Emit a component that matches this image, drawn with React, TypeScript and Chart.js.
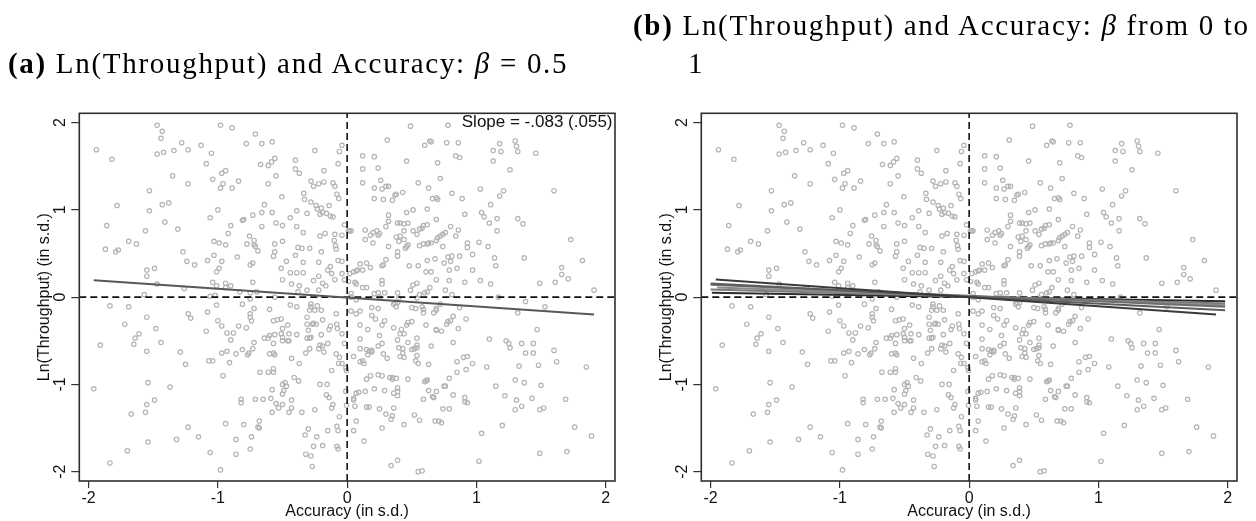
import React, { useEffect, useRef } from "react";
import { Chart, registerables } from "chart.js";

Chart.register(...registerables);

// ---------- axis values ----------
const accuracyTicks = [-2, -1, 0, 1, 2];
const throughputTicks = [-2, -1, 0, 1, 2];
const X_RANGE = [-2.072, 2.072];
const Y_RANGE = [-2.107, 2.107];

// ---------- scatter points (accuracy, ln throughput) ----------
const pointsUpperLeft: number[][] = [
  [-1.94,1.69],[-1.82,1.58],[-1.86,0.82],[-1.78,1.05],[-1.87,0.55],[-1.79,0.52],[-1.77,0.54],[-1.69,0.64],[-1.63,0.61],[-1.56,0.76],
  [-1.55,0.31],[-1.55,0.24],[-1.49,0.33],[-1.57,0.03],[-1.47,0.15],[-1.47,1.97],[-1.43,1.90],[-1.44,1.82],[-1.47,1.64],[-1.42,1.66],
  [-1.53,1.22],[-1.53,0.99],[-1.43,1.06],[-1.38,1.08],[-1.41,0.86],[-1.35,1.39],[-1.34,1.68],[-1.28,1.77],[-1.23,1.69],[-1.23,1.30],
  [-1.13,1.74],[-1.09,1.53],[-1.05,1.65],[-1.04,1.35],[-0.98,1.97],[-0.89,1.94],[-0.97,1.42],[-0.94,1.45],[-0.96,1.30],[-0.98,1.25],
  [-0.89,1.25],[-0.84,1.33],[-1.00,1.00],[-1.06,0.91],[-0.90,0.82],[-0.92,0.73],[-1.31,0.78],[-1.27,0.52],[-1.24,0.41],[-1.18,0.37],
  [-1.08,0.42],[-1.03,0.64],[-1.03,0.48],[-0.99,0.62],[-0.94,0.60],[-0.97,0.41],[-1.01,0.29],[-0.99,0.33],[-0.85,0.46],[-0.81,0.88],
  [-0.80,0.89],[-0.78,1.76],[-0.71,1.87],[-0.66,1.76],[-0.67,1.52],[-0.61,1.51],[-0.585,1.55],[-0.56,1.59],[-0.58,1.78],[-0.61,1.30],
  [-0.55,1.39],[-0.505,1.15],[-0.64,1.06],[-0.66,0.97],[-0.73,0.94],[-0.66,0.81],[-0.58,0.97],[-0.55,0.85],[-0.50,0.82],[-0.755,0.70],
  [-0.775,0.61],[-0.72,0.65],[-0.72,0.60],[-0.71,0.58],[-0.69,0.53],[-0.75,0.37],[-0.73,0.39],[-0.73,0.17],[-0.56,0.61],[-0.56,0.52],
  [-0.57,0.47],[-0.50,0.64],[-0.51,0.33],[-0.47,0.41],[-0.44,0.28],[-0.50,0.20],[-0.43,0.15],[-0.40,1.57],[-0.40,1.47],[-0.37,1.42],
  [-0.25,1.68],[-0.335,1.19],[-0.33,1.12],[-0.28,1.33],[-0.26,1.27],[-0.22,1.30],[-0.18,1.32],[-0.11,1.31],[-0.095,1.27],[-0.39,0.99],
  [-0.44,0.91],[-0.39,0.81],[-0.34,0.74],[-0.31,0.96],[-0.28,1.09],[-0.24,1.05],[-0.23,1.01],[-0.20,1.02],[-0.19,0.97],[-0.21,0.95],
  [-0.16,0.96],[-0.13,0.93],[-0.11,0.92],[-0.14,1.05],[-0.18,1.45],[-0.08,1.18],[-0.065,1.13],[-0.07,1.53],[-0.06,1.67],[-0.21,0.70],
  [-0.17,0.73],[-0.095,0.72],[-0.10,0.65],[-0.09,0.59],[-0.085,0.55],[-0.20,0.52],[-0.40,0.48],[-0.38,0.57],[-0.35,0.56],[-0.29,0.56],
  [-0.34,0.40],[-0.39,0.28],[-0.34,0.28],[-0.22,0.40],[-0.15,0.31],[-0.12,0.27],[-0.095,0.20],[-0.07,0.42],[-0.13,0.35],[-0.22,0.24],
  [-0.26,0.19],[-0.19,0.16],[-0.165,0.13],[-0.22,0.08],[-0.31,0.08],[-0.37,0.13],[-1.06,0.01],[-1.02,0.02],[-1.04,0.17],[-1.01,0.13],
  [-0.94,0.16],[-0.94,0.11],[-0.90,0.13],[-0.83,0.06],[-0.75,0.05],[-0.70,0.06],[-1.26,0.10],[-0.56,0.00],[-0.38,0.06],
  [-0.04,1.74],[-0.02,0.83],[-0.04,0.71],[-0.04,0.41],[-0.04,0.27],[-0.02,0.20],
];

const pointsUpperRight: number[][] = [
  [0.01,0.76],[0.02,0.76],[0.03,0.76],[0.01,0.18],[0.02,0.27],[0.05,0.29],[0.07,0.30],[0.08,0.31],[0.06,0.17],[0.07,0.15],
  [0.03,0.04],[0.12,0.11],[0.15,0.11],[0.12,1.62],[0.21,1.61],[0.12,1.47],[0.24,1.48],[0.12,1.31],[0.21,1.25],[0.26,1.34],
  [0.27,1.24],[0.30,1.27],[0.32,1.27],[0.21,1.13],[0.28,1.12],[0.35,1.11],[0.37,1.17],[0.38,1.18],[0.43,1.20],[0.31,1.80],
  [0.49,1.96],[0.46,1.56],[0.60,1.74],[0.64,1.79],[0.65,1.78],[0.77,1.77],[0.86,1.77],[0.78,1.97],[0.70,1.54],[0.84,1.62],
  [0.87,1.60],[0.55,1.31],[0.63,1.25],[0.72,1.36],[0.66,1.13],[0.69,1.14],[0.70,1.12],[0.81,1.19],[0.89,1.13],[1.03,1.24],
  [1.13,1.68],[1.19,1.67],[1.18,1.76],[1.13,1.56],[1.26,1.46],[1.30,1.79],[1.31,1.73],[1.32,1.67],[1.46,1.65],[1.60,1.22],
  [1.21,1.22],[1.18,1.16],[1.11,1.06],[1.04,0.97],[1.06,0.92],[0.91,0.95],[1.10,0.85],[1.16,0.90],[1.16,0.76],[1.32,0.90],
  [1.36,0.84],[1.73,0.66],[1.82,0.42],[1.37,0.45],[1.14,0.45],[1.15,0.36],[0.97,0.49],[1.02,0.63],[1.09,0.58],[0.93,0.62],
  [0.93,0.57],[0.97,0.31],[0.91,0.17],[1.03,0.19],[1.11,0.15],[1.49,0.16],[1.61,0.17],[1.66,0.26],[1.66,0.34],[1.71,0.21],
  [1.91,0.08],[1.17,0.00],[0.79,0.31],[0.80,0.41],[0.78,0.46],[0.81,0.47],[0.85,0.33],[0.75,0.39],[0.87,0.47],[0.74,0.58],
  [0.84,0.70],[0.80,0.81],[0.86,0.77],[0.76,0.74],[0.74,0.72],[0.72,0.70],[0.70,0.68],[0.69,0.65],[0.65,0.62],[0.62,0.61],
  [0.59,0.61],[0.69,0.89],[0.62,1.01],[0.51,1.00],[0.46,0.97],[0.32,0.94],[0.32,0.87],[0.30,0.81],[0.39,0.85],[0.41,0.85],
  [0.44,0.84],[0.47,0.85],[0.54,0.72],[0.56,0.78],[0.58,0.79],[0.59,0.82],[0.62,0.83],[0.51,0.76],[0.44,0.76],[0.38,0.69],
  [0.41,0.70],[0.40,0.64],[0.44,0.66],[0.46,0.58],[0.47,0.60],[0.45,0.56],[0.56,0.59],[0.63,0.62],[0.68,0.44],[0.62,0.42],
  [0.55,0.36],[0.48,0.36],[0.39,0.52],[0.39,0.47],[0.32,0.58],[0.25,0.73],[0.23,0.76],[0.24,0.71],[0.20,0.62],[0.14,0.66],
  [0.14,0.77],[0.20,0.74],[0.18,0.71],[0.10,0.38],[0.15,0.39],[0.18,0.34],[0.12,0.31],[0.27,0.36],[0.28,0.37],[0.30,0.43],
  [0.65,0.29],[0.61,0.29],[0.69,0.20],[0.79,0.19],[0.27,0.19],[0.27,0.15],[0.21,0.04],[0.24,0.05],[0.29,0.05],[0.39,0.05],
  [0.49,0.08],[0.51,0.14],[0.54,0.16],[0.56,0.03],[0.60,0.05],[0.62,0.06],[0.64,0.11],[0.76,0.08],[0.81,0.03],[0.40,-0.01],
  [0.54,-0.01],
];

const pointsLowerLeft: number[][] = [
  [-1.835,-0.10],[-1.69,-0.11],[-1.72,-0.31],[-1.55,-0.23],[-1.91,-0.55],[-1.61,-0.42],[-1.64,-0.47],[-1.65,-0.54],[-1.48,-0.36],[-1.44,-0.52],
  [-1.55,-0.62],[-1.96,-1.05],[-1.54,-0.98],[-1.37,-1.03],[-1.49,-1.18],[-1.55,-1.23],[-1.56,-1.32],[-1.67,-1.34],[-1.54,-1.66],[-1.70,-1.76],
  [-1.835,-1.90],[-1.23,-0.19],[-1.21,-0.24],[-1.08,-0.17],[-1.01,-0.09],[-1.00,-0.27],[-0.97,-0.33],[-1.09,-0.39],[-0.93,-0.41],[-0.88,-0.41],
  [-0.84,-0.33],[-0.78,-0.35],[-0.90,-0.49],[-0.97,-0.64],[-0.93,-0.62],[-0.86,-0.65],[-0.91,-0.75],[-0.81,-0.60],[-1.29,-0.63],[-1.25,-0.77],
  [-1.07,-0.73],[-1.04,-0.73],[-0.96,-0.90],[-0.81,-0.08],[-0.75,-0.19],[-0.75,-0.02],[-0.75,-0.23],[-0.74,-0.27],[-0.72,-0.13],[-0.72,-0.52],
  [-0.73,-0.59],[-0.76,-0.64],[-0.77,-0.66],[-0.675,-0.86],[-0.60,-0.44],[-0.61,-0.47],[-0.64,-0.47],[-0.60,-0.14],[-0.57,-0.27],[-0.54,-0.26],
  [-0.51,-0.25],[-0.56,-0.43],[-0.57,-0.53],[-0.60,-0.65],[-0.57,-0.64],[-0.56,-0.66],[-0.61,-0.86],[-0.57,-0.82],[-0.57,-0.86],[-0.51,-0.42],
  [-0.50,-0.46],[-0.50,-0.36],[-0.46,-0.32],[-0.50,-0.50],[-0.46,-0.50],[-0.45,-0.50],[-0.45,-0.42],[-0.44,-0.09],[-0.39,-0.11],[-0.39,-0.43],
  [-0.43,-0.70],[-0.37,-0.76],[-0.50,-1.00],[-0.48,-0.98],[-0.49,-1.07],[-0.47,-1.02],[-0.50,-1.11],[-0.41,-0.92],[-0.375,-0.96],[-0.65,-1.17],
  [-0.59,-1.16],[-0.58,-1.06],[-0.55,-1.22],[-0.53,-1.27],[-0.50,-1.23],[-0.43,-1.18],[-0.43,-1.27],[-0.45,-1.32],[-0.35,-1.32],[-0.58,-1.32],
  [-0.68,-1.42],[-0.69,-1.49],[-0.68,-1.50],[-0.71,-1.17],[-0.82,-1.17],[-0.82,-1.21],[-0.80,-1.46],[-0.74,-1.60],[-0.75,-1.74],[-0.86,-1.63],
  [-0.86,-1.80],[-0.94,-1.45],[-0.98,-1.98],[-1.06,-1.78],[-1.15,-1.60],[-1.23,-1.49],[-1.32,-1.63],[-0.325,-1.58],[-0.30,-1.51],[-0.235,-1.60],
  [-0.19,-1.70],[-0.26,-1.71],[-0.32,-1.80],[-0.28,-1.82],[-0.27,-1.94],[-0.25,-1.29],[-0.15,-1.53],[-0.08,-1.71],[-0.07,-1.74],[-0.08,-1.48],
  [-0.07,-1.53],[-0.06,-1.37],[-0.12,-1.27],[-0.11,-1.23],[-0.16,-1.12],[-0.14,-1.15],[-0.21,-1.00],[-0.155,-1.00],[-0.12,-0.84],[-0.32,-0.64],
  [-0.29,-0.59],[-0.22,-0.59],[-0.18,-0.63],[-0.21,-0.55],[-0.19,-0.56],[-0.15,-0.53],[-0.085,-0.65],[-0.065,-0.76],[-0.20,-0.43],[-0.31,-0.31],
  [-0.30,-0.38],[-0.28,-0.46],[-0.31,-0.47],[-0.29,-0.47],[-0.27,-0.31],[-0.26,-0.30],[-0.24,-0.31],[-0.29,-0.15],[-0.28,-0.08],[-0.28,-0.11],
  [-0.23,-0.10],[-0.25,-0.15],[-0.20,-0.15],[-0.31,-0.23],[-0.19,-0.26],[-0.13,-0.33],[-0.14,-0.37],[-0.085,-0.19],[-0.08,-0.31],[-0.075,-0.36],
  [-0.04,-0.42],[-0.02,-0.53],[-0.06,-0.69],[-0.04,-0.76],[-0.01,-0.81],[-0.005,-0.84],[-0.01,-1.08],[-0.005,-1.24],
];

const pointsLowerRight: number[][] = [
  [0.03,-0.16],[0.03,0.00],[0.07,-0.03],[0.07,-0.19],[0.10,-0.16],[0.10,-0.32],[0.05,-0.68],[0.10,-0.48],[0.10,-0.59],[0.10,-0.74],
  [0.12,-0.73],[0.13,-0.76],[0.15,-0.94],[0.18,-0.90],[0.07,-1.10],[0.09,-1.09],[0.14,-1.08],[0.05,-1.16],[0.05,-1.18],[0.06,-1.25],
  [0.15,-1.26],[0.17,-1.26],[0.07,-1.42],[0.05,-1.53],[0.13,-1.65],[0.16,-0.37],[0.19,-0.61],[0.15,-0.60],[0.17,-0.62],[0.19,-0.63],
  [0.16,-0.66],[0.19,-0.21],[0.22,-0.25],[0.19,-0.12],[0.24,-0.13],[0.25,0.00],[0.29,-0.27],[0.27,-0.32],[0.25,-0.44],[0.27,-0.53],
  [0.24,-0.56],[0.28,-0.65],[0.31,-0.70],[0.24,-0.89],[0.27,-0.90],[0.21,-1.05],[0.29,-1.07],[0.36,-1.10],[0.33,-0.92],[0.35,-0.92],
  [0.35,-0.94],[0.38,-0.93],[0.39,-1.04],[0.39,-1.08],[0.39,-1.13],[0.25,-1.28],[0.30,-1.34],[0.35,-1.36],[0.34,-1.40],[0.36,-1.27],
  [0.27,-1.50],[0.44,-1.46],[0.34,-1.93],[0.39,-1.87],[0.55,-2.00],[0.58,-1.99],[0.36,-0.08],[0.38,-0.11],[0.39,-0.06],[0.37,-0.06],
  [0.36,-0.35],[0.39,-0.49],[0.42,-0.37],[0.41,-0.42],[0.44,-0.42],[0.46,-0.32],[0.47,-0.29],[0.50,-0.28],[0.40,-0.58],[0.43,-0.59],
  [0.41,-0.68],[0.43,-0.64],[0.44,-0.69],[0.47,-0.52],[0.50,-0.60],[0.52,-0.59],[0.54,-0.47],[0.54,-0.55],[0.54,-0.58],[0.54,-0.67],
  [0.53,-0.73],[0.55,-0.76],[0.47,-0.94],[0.50,-0.12],[0.53,-0.13],[0.58,-0.11],[0.59,-0.14],[0.59,-0.18],[0.61,-0.32],[0.65,-0.56],
  [0.63,-0.77],[0.67,-0.18],[0.69,-0.15],[0.69,-0.13],[0.72,-0.08],[0.69,-0.37],[0.69,-0.38],[0.73,-0.39],[0.60,-0.97],[0.61,-0.96],
  [0.62,-0.95],[0.63,-1.07],[0.59,-1.17],[0.66,-1.14],[0.67,-1.15],[0.69,-1.08],[0.52,-1.35],[0.56,-1.41],[0.68,-1.42],[0.71,-1.42],
  [0.73,-1.44],[0.75,-1.02],[0.76,-1.02],[0.74,-1.28],[0.79,-1.28],[0.79,-0.93],[0.82,-1.12],[0.77,-0.31],[0.78,-0.28],[0.80,-0.27],
  [0.82,-0.22],[0.86,-0.36],[0.87,-0.12],[0.82,-0.52],[0.92,-0.25],[0.85,-0.74],[0.85,-0.86],[0.90,-0.69],[0.93,-0.68],[0.97,-0.76],
  [0.92,-0.83],[0.91,-1.15],[0.91,-1.20],[0.93,-1.21],[1.04,-1.56],[1.02,-1.88],[1.08,-0.80],[1.10,-0.48],[1.15,-1.02],[1.20,-1.47],
  [1.22,-1.13],[1.23,-0.50],[1.25,-0.53],[1.26,-0.58],[1.30,-0.95],[1.37,-0.98],[1.31,-1.18],[1.35,-1.25],[1.30,-1.29],[1.33,-0.79],
  [1.32,-0.18],[1.38,-0.05],[1.35,-0.53],[1.38,-0.64],[1.44,-0.53],[1.44,-0.64],[1.43,-1.16],[1.47,-0.37],[1.48,-0.78],[1.50,-1.01],
  [1.49,-1.29],[1.52,-1.27],[1.49,-1.79],[1.53,-0.11],[1.60,-0.61],[1.62,-0.74],[1.69,-1.17],[1.70,-1.77],[1.76,-1.49],[1.85,-0.80],
  [1.89,-1.59],
];

// ---------- fitted lines ----------
const fitA_x = [-1.96, 1.91];
const fitA_y = [0.195, -0.2];
const slopeLabelA = "Slope = -.083 (.055)";

// panel (b): one fitted line per beta, endpoints
const fitsB_x0 = [-1.96, -2.0, -2.0, -1.95, -2.0, -1.99];
const fitsB_y0 = [0.203, 0.157, 0.142, 0.111, 0.088, 0.05];
const fitsB_x1 = [1.91, 1.98, 1.98, 1.98, 1.98, 1.98];
const fitsB_y1 = [-0.199, -0.149, -0.111, -0.092, -0.073, -0.046];

// ---------- styles ----------
const fitA_color = "#585858";
const fitsB_colors = ["#3a3a3a", "#5c5c5c", "#6e6e6e", "#8a8a8a", "#7a7a7a", "#2c2c2c"];
const SANS = '"Liberation Sans", Arial, Helvetica, sans-serif';
const SERIF = '"Liberation Serif", "Times New Roman", serif';

const allPoints = [...pointsUpperLeft, ...pointsUpperRight, ...pointsLowerLeft, ...pointsLowerRight];

const framePlugin = {
  id: "frameNote",
  afterDatasetsDraw(chart: any, _args: any, opts: any) {
    const { ctx, chartArea } = chart;
    const { left, top, right, bottom } = chartArea;
    ctx.save();
    ctx.strokeStyle = "#2e2e2e";
    ctx.lineWidth = 1.6;
    ctx.strokeRect(left, top, right - left, bottom - top);
    if (opts && opts.text) {
      ctx.fillStyle = "#111";
      ctx.font = `17px ${SANS}`;
      ctx.textAlign = "right";
      ctx.textBaseline = "middle";
      ctx.fillText(opts.text, right - 2.5, top + 8.6);
    }
    ctx.restore();
  },
};

type Line = { x: number[]; y: number[]; color: string };

function buildConfig(lines: Line[], note: string | null): any {
  const lineSets = lines.map((l) => ({
    type: "line",
    data: [
      { x: l.x[0], y: l.y[0] },
      { x: l.x[1], y: l.y[1] },
    ],
    borderColor: l.color,
    borderWidth: 2,
    pointRadius: 0,
    pointHoverRadius: 0,
    fill: false,
    tension: 0,
    order: 1,
  }));
  const dashed = (pts: { x: number; y: number }[]) => ({
    type: "line",
    data: pts,
    borderColor: "#111",
    borderWidth: 1.6,
    borderDash: [7, 4],
    pointRadius: 0,
    pointHoverRadius: 0,
    fill: false,
    order: 2,
  });
  const tickFont = { family: SANS, size: 16 };
  return {
    type: "scatter",
    data: {
      datasets: [
        ...lineSets,
        dashed([
          { x: X_RANGE[0], y: 0 },
          { x: X_RANGE[1], y: 0 },
        ]),
        dashed([
          { x: 0, y: Y_RANGE[0] },
          { x: 0, y: Y_RANGE[1] },
        ]),
        {
          type: "scatter",
          data: allPoints.map(([x, y]) => ({ x, y })),
          pointRadius: 2.2,
          pointHoverRadius: 2.2,
          borderWidth: 1.2,
          borderColor: "#b3b3b3",
          backgroundColor: "rgba(255,255,255,0)",
          order: 3,
        },
      ],
    },
    options: {
      animation: false,
      responsive: false,
      maintainAspectRatio: false,
      devicePixelRatio: 1,
      events: [],
      layout: { padding: { top: 113.3, right: 13, bottom: 0, left: 0 } },
      plugins: {
        legend: { display: false },
        tooltip: { enabled: false },
        frameNote: { text: note },
      },
      scales: {
        x: {
          type: "linear",
          min: X_RANGE[0],
          max: X_RANGE[1],
          afterBuildTicks: (s: any) => {
            s.ticks = accuracyTicks.map((v) => ({ value: v }));
          },
          afterFit: (s: any) => {
            s.height = 40;
          },
          border: { display: false },
          grid: { drawOnChartArea: false, drawTicks: true, tickLength: 7, color: "#333", lineWidth: 1.2 },
          ticks: {
            color: "#111",
            font: tickFont,
            padding: 1,
            autoSkip: false,
            maxRotation: 0,
            minRotation: 0,
            callback: (v: any) => String(v),
          },
          title: {
            display: true,
            text: "Accuracy (in s.d.)",
            color: "#111",
            font: tickFont,
            padding: { top: 0, bottom: 0 },
          },
        },
        y: {
          type: "linear",
          min: Y_RANGE[0],
          max: Y_RANGE[1],
          afterBuildTicks: (s: any) => {
            s.ticks = throughputTicks.map((v) => ({ value: v }));
          },
          afterFit: (s: any) => {
            s.width = 79.3;
          },
          border: { display: false },
          grid: { drawOnChartArea: false, drawTicks: true, tickLength: 8, color: "#333", lineWidth: 1.2 },
          ticks: {
            color: "#111",
            font: tickFont,
            padding: 3.5,
            autoSkip: false,
            minRotation: 90,
            maxRotation: 90,
            crossAlign: "center",
            callback: (v: any) => String(v),
          },
          title: {
            display: true,
            text: "Ln(Throughput) (in s.d.)",
            color: "#111",
            font: tickFont,
            padding: { top: 35.4, bottom: 0 },
          },
        },
      },
    },
    plugins: [framePlugin],
  };
}

function Panel({ lines, note, left }: { lines: Line[]; note: string | null; left: number }) {
  const ref = useRef<HTMLCanvasElement | null>(null);
  useEffect(() => {
    if (!ref.current) return;
    const chart = new Chart(ref.current, buildConfig(lines, note));
    return () => chart.destroy();
  }, []);
  return (
    <canvas
      ref={ref}
      width={628}
      height={521}
      style={{ position: "absolute", left, top: 0, width: 628, height: 521 }}
    />
  );
}

export default function App() {
  const linesA: Line[] = [{ x: fitA_x, y: fitA_y, color: fitA_color }];
  const linesB: Line[] = fitsB_x0.map((x0, i) => ({
    x: [x0, fitsB_x1[i]],
    y: [fitsB_y0[i], fitsB_y1[i]],
    color: fitsB_colors[i],
  }));
  const titleStyle: React.CSSProperties = {
    position: "absolute",
    fontFamily: SERIF,
    fontSize: 29,
    lineHeight: "38px",
    whiteSpace: "nowrap",
    color: "#000",
    letterSpacing: "1.7px",
  };
  return (
    <div style={{ position: "absolute", left: 0, top: 0, width: 1256, height: 521, background: "#fff", overflow: "hidden" }}>
      <Panel lines={linesA} note={slopeLabelA} left={0} />
      <Panel lines={linesB} note={null} left={622} />
      <div style={{ ...titleStyle, left: 8, top: 44 }}>
        <b>(a)</b> Ln(Throughput) and Accuracy: <i>β</i> = 0.5
      </div>
      <div style={{ ...titleStyle, left: 633, top: 6 }}>
        <b>(b)</b> Ln(Throughput) and Accuracy: <i>β</i> from 0 to
      </div>
      <div style={{ ...titleStyle, left: 688, top: 44 }}>1</div>
    </div>
  );
}
